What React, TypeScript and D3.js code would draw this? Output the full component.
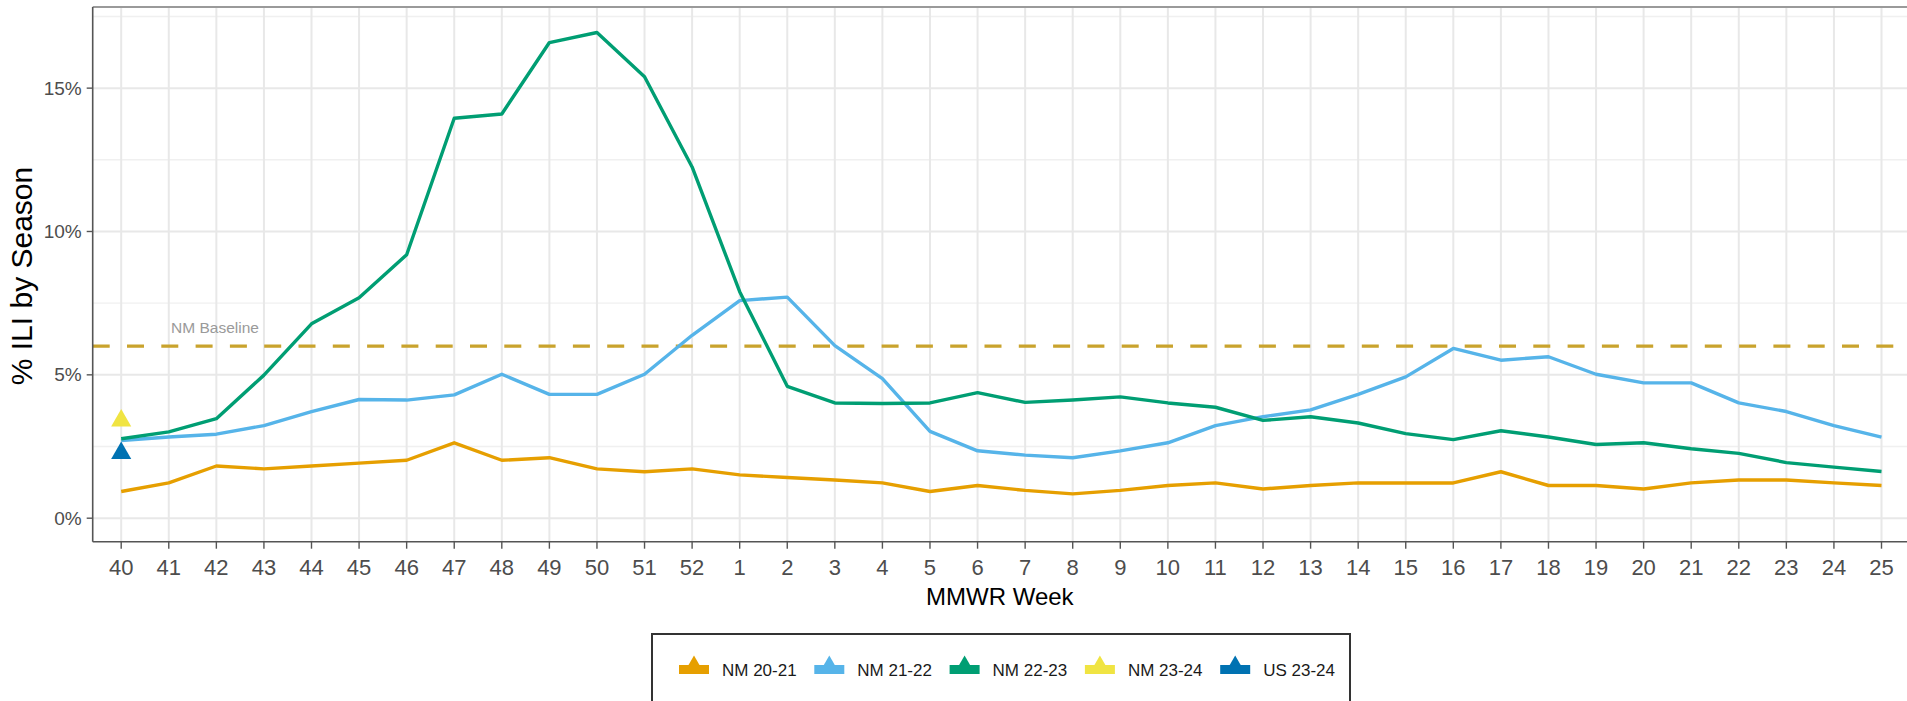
import React from 'react';
import * as d3 from 'd3';

const weeks = [
  '40', '41', '42', '43', '44', '45', '46', '47', '48', '49', '50', '51', '52',
  '1', '2', '3', '4', '5', '6', '7', '8', '9', '10', '11', '12', '13', '14', '15',
  '16', '17', '18', '19', '20', '21', '22', '23', '24', '25',
];

const nm2021 = [
  0.93, 1.23, 1.82, 1.72, 1.82, 1.92, 2.02, 2.63, 2.02, 2.11, 1.72, 1.62, 1.72,
  1.51, 1.42, 1.33, 1.23, 0.93, 1.14, 0.97, 0.85, 0.97, 1.14, 1.23, 1.02, 1.14,
  1.23, 1.23, 1.23, 1.62, 1.14, 1.14, 1.02, 1.23, 1.33, 1.33, 1.23, 1.14,
];

const nm2122 = [
  2.71, 2.83, 2.93, 3.23, 3.72, 4.14, 4.12, 4.3, 5.02, 4.32, 4.32, 5.02, 6.38,
  7.59, 7.71, 6.02, 4.87, 3.03, 2.35, 2.2, 2.11, 2.35, 2.63, 3.23, 3.54, 3.78,
  4.32, 4.93, 5.92, 5.51, 5.63, 5.02, 4.72, 4.72, 4.02, 3.72, 3.23, 2.83,
];

const nm2223 = [
  2.77, 3.01, 3.47, 4.99, 6.78, 7.69, 9.19, 13.95, 14.1, 16.59, 16.94, 15.4, 12.25,
  7.9, 4.6, 4.02, 4.0, 4.02, 4.38, 4.04, 4.12, 4.23, 4.02, 3.87, 3.41, 3.54,
  3.32, 2.95, 2.74, 3.05, 2.83, 2.57, 2.63, 2.42, 2.26, 1.94, 1.78, 1.63,
];

// single points for the current season (week 40 only)
const nm2324 = [3.4];
const us2324 = [2.27];

const baseline = 6.0;

const yTicks = [0, 5, 10, 15];
const yMinor = [2.5, 7.5, 12.5, 17.5];

const seasonNames = ['NM 20-21', 'NM 21-22', 'NM 22-23', 'NM 23-24', 'US 23-24'];
const seasonColors = ['#E69F00', '#56B4E9', '#009E73', '#F0E442', '#0072B2'];

const W = 1907;
const H = 701;
const FONT = '"Liberation Sans", Arial, Helvetica, sans-serif';

const App: React.FC = () => {
  const left = 92.7;
  const right = 1910;
  const top = 7;
  const bottom = 541.7;

  const x = d3.scalePoint<string>().domain(weeks).range([left + 28.5, right - 28.5]);
  const y = d3.scaleLinear().domain([-0.82, 17.83]).range([bottom, top]);

  const line = d3
    .line<number>()
    .x((_, i) => x(weeks[i]) as number)
    .y((d) => y(d));

  const lineSeries = [
    { name: seasonNames[0], color: seasonColors[0], values: nm2021 },
    { name: seasonNames[1], color: seasonColors[1], values: nm2122 },
    { name: seasonNames[2], color: seasonColors[2], values: nm2223 },
  ];

  const pointSeries = [
    { name: seasonNames[3], color: seasonColors[3], values: nm2324 },
    { name: seasonNames[4], color: seasonColors[4], values: us2324 },
  ];

  const tri = d3.symbol().type(d3.symbolTriangle).size(175)();
  const keyTri = d3.symbol().type(d3.symbolTriangle).size(55)();

  const legendStart = 694;
  const legendStep = 135.3;
  const legendY = 670;

  return (
    <svg
      width={W}
      height={H}
      style={{ position: 'absolute', left: 0, top: 0, background: '#fff', fontFamily: FONT }}
    >
      <defs>
        <clipPath id="panel">
          <rect x={left} y={top} width={right - left} height={bottom - top} />
        </clipPath>
      </defs>

      {/* grid */}
      <g clipPath="url(#panel)">
        {yMinor.map((t) => (
          <line key={'mn' + t} x1={left} x2={right} y1={y(t)} y2={y(t)} stroke="#f0f0f0" strokeWidth={1.4} />
        ))}
        {yTicks.map((t) => (
          <line key={'mj' + t} x1={left} x2={right} y1={y(t)} y2={y(t)} stroke="#e8e8e8" strokeWidth={2} />
        ))}
        {weeks.map((w) => (
          <line key={'vx' + w} x1={x(w)} x2={x(w)} y1={top} y2={bottom} stroke="#e8e8e8" strokeWidth={2} />
        ))}

        {/* baseline */}
        <line
          x1={left}
          x2={right}
          y1={y(baseline)}
          y2={y(baseline)}
          stroke="#C9A32D"
          strokeWidth={3.4}
          strokeDasharray="17 17.3"
        />

        {lineSeries.map((s) => (
          <path
            key={s.name}
            d={line(s.values) || ''}
            fill="none"
            stroke={s.color}
            strokeWidth={3.4}
            strokeLinejoin="round"
          />
        ))}

        {pointSeries.map((s) =>
          s.values.map((v, i) => (
            <path
              key={s.name + i}
              d={tri || ''}
              transform={`translate(${x(weeks[i])},${y(v)})`}
              fill={s.color}
            />
          ))
        )}
      </g>

      <text x={215} y={333} textAnchor="middle" fontSize={15.5} fill="#9a9a9a">
        NM Baseline
      </text>

      {/* panel border & axes */}
      <line x1={left} x2={right} y1={top} y2={top} stroke="#9a9a9a" strokeWidth={1.8} />
      <line x1={left} x2={left} y1={top} y2={bottom} stroke="#555" strokeWidth={1.6} />
      <line x1={left} x2={right} y1={bottom} y2={bottom} stroke="#555" strokeWidth={1.6} />

      {/* y axis */}
      {yTicks.map((t) => (
        <g key={'yt' + t}>
          <line x1={left - 6} x2={left} y1={y(t)} y2={y(t)} stroke="#555" strokeWidth={1.4} />
          <text x={left - 11} y={y(t)} dy="0.35em" textAnchor="end" fontSize={19} fill="#4d4d4d">
            {d3.format('d')(t) + '%'}
          </text>
        </g>
      ))}

      {/* x axis */}
      {weeks.map((w) => (
        <g key={'xt' + w}>
          <line x1={x(w)} x2={x(w)} y1={bottom} y2={bottom + 7} stroke="#555" strokeWidth={1.4} />
          <text x={x(w)} y={574.5} textAnchor="middle" fontSize={22} fill="#4d4d4d">
            {w}
          </text>
        </g>
      ))}

      <text x={(left + 1907) / 2} y={605} textAnchor="middle" fontSize={24} fill="#000">
        MMWR Week
      </text>
      <text
        transform={`translate(32,276) rotate(-90)`}
        textAnchor="middle"
        fontSize={30}
        fill="#000"
      >
        % ILI by Season
      </text>

      {/* legend */}
      <rect x={652} y={634} width={698} height={80} fill="#fff" stroke="#333" strokeWidth={2} />
      {seasonNames.map((n, i) => {
        const cx = legendStart + i * legendStep;
        return (
          <g key={'lg' + n}>
            <rect x={cx - 15} y={legendY - 5} width={30} height={9} fill={seasonColors[i]} />
            <path d={keyTri || ''} transform={`translate(${cx},${legendY - 8})`} fill={seasonColors[i]} />
            <text x={cx + 28} y={legendY} dy="0.36em" fontSize={17} fill="#1a1a1a">
              {n}
            </text>
          </g>
        );
      })}
    </svg>
  );
};

export default App;
